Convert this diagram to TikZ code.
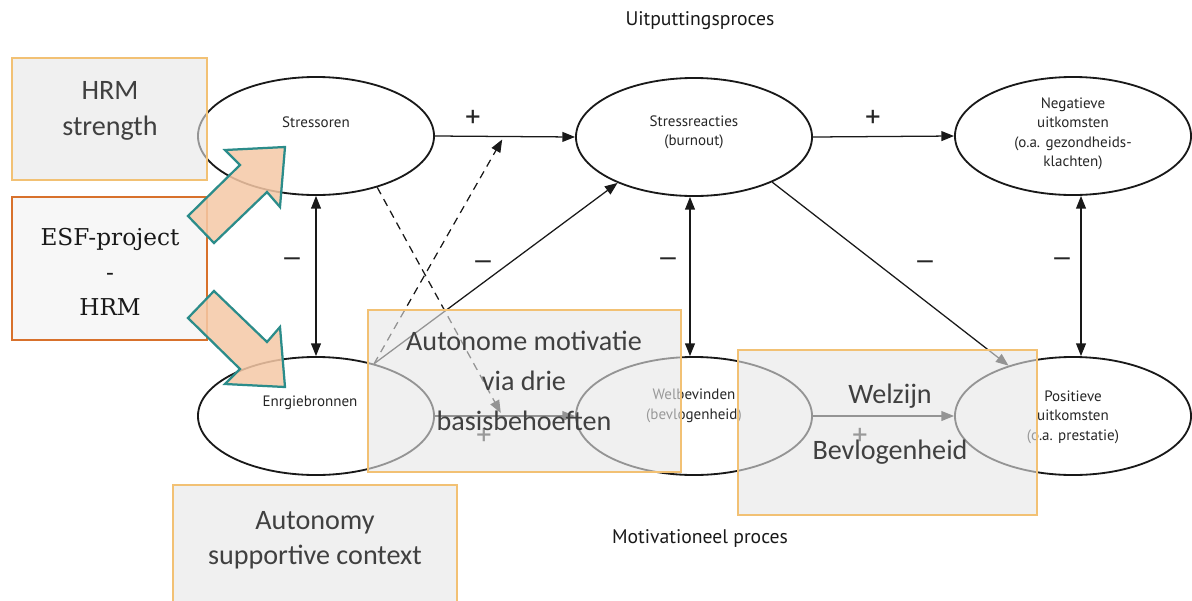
\documentclass[tikz,border=0pt]{standalone}
\usepackage{fontspec}
\setmainfont{Carlito}
\newfontfamily\lblfont{PT Sans}
\newfontfamily\slabfont{DejaVu Serif}
\usetikzlibrary{shapes.geometric,arrows.meta,calc}
\definecolor{boxedge}{HTML}{F2C174}
\definecolor{boxfill}{HTML}{E6E6E6}
\definecolor{esfedge}{HTML}{D8712C}
\definecolor{esffill}{HTML}{F7F7F7}
\definecolor{peach}{HTML}{F5C8A6}
\definecolor{tealedge}{HTML}{2B8C8A}
\definecolor{boxtext}{HTML}{404040}
\begin{document}
\begin{tikzpicture}[x=0.025cm,y=-0.025cm,
  ell/.style={ellipse,draw=black!90,line width=1.3pt,minimum width=5.9cm,minimum height=2.95cm,inner sep=0pt},
  lbl/.style={font=\lblfont\fontsize{10.7}{13.8}\selectfont,align=center,text=black!85},
  tip/.style={-{Triangle[length=9pt,width=7pt]}},
  conn/.style={line width=0.9pt,draw=black!90,tip},
  both/.style={line width=0.9pt,draw=black!90,{Triangle[length=9pt,width=7pt]}-{Triangle[length=9pt,width=7pt]}},
  dashconn/.style={conn,dash pattern=on 5.5pt off 4pt},
  sign/.style={font=\lblfont\fontsize{22}{22}\selectfont,text=black!85},
  minus/.style={font=\lblfont\fontsize{19}{19}\selectfont,text=black!85},
  title/.style={font=\lblfont\fontsize{14}{17}\selectfont,text=black!90},
  softbox/.style={draw=boxedge,line width=1.6pt,fill=boxfill,fill opacity=0.6,inner sep=0pt},
  boxlbl/.style={font=\fontsize{20}{26}\selectfont,text=boxtext,align=center},
  blockarrow/.style={fill=peach,fill opacity=0.85,draw=tealedge,line width=1.6pt,line join=miter}]
\clip (0,0) rectangle (1192,600);

% titles of the two processes
\node[title] (t1) at (700,21) {Uitputtingsproces};
\node[title] (t2) at (700,538) {Motivationeel proces};

% model variables
\node[ell] (str) at (316,136) {};
\node[ell] (sr)  at (694,137) {};
\node[ell] (neg) at (1073,136) {};
\node[ell] (enr) at (316,416) {};
\node[ell] (wel) at (694,416) {};
\node[ell] (pos) at (1073,416) {};

\node[lbl] (strl) at (316,122) {Stressoren};
\node[lbl] (srl)  at (694,132) {Stressreacties\\(burnout)};
\node[lbl] (negl) at (1073,134) {Negatieve\\uitkomsten\\(o.a. gezondheids-\\klachten)};
\node[lbl] (enrl) at (310,403) {Enrgiebronnen};
\node[lbl] (well) at (694,406) {Welbevinden\\(bevlogenheid)};
\node[lbl] (posl) at (1073,417) {Positieve\\uitkomsten\\(o.a. prestatie)};

% paths between the variables
\draw[conn] (str.east) -- (sr.west);
\draw[conn] (sr.east) -- (neg.west);
\draw[both] (str.south) -- (enr.north);
\draw[both] ([xshift=-0.1cm]sr.south) -- ([xshift=-0.1cm]wel.north);
\draw[both] ([xshift=0.2cm]neg.south) -- ([xshift=0.2cm]pos.north);
\draw[conn] (enr.42) -- (sr.211);
\draw[conn] (sr.-30) -- (pos.142);
\draw[conn] (enr.east) -- (wel.west);
\draw[conn] (wel.east) -- (pos.west);

% moderating (dashed) paths
\coordinate (m1) at ($(str.east)!0.48!(sr.west)+(0,3)$);
\coordinate (m2) at ($(enr.east)!0.47!(wel.west)+(0,-3)$);
\draw[dashconn] (enr.42) -- (m1);
\draw[dashconn] (str.-40) -- (m2);

% signs of the paths
\node[sign] (p1) at (473,119) {+};
\node[sign] (p2) at (873,119) {+};
\node[sign] (p3) at (484,437) {+};
\node[sign] (p4) at (860,437) {+};
\node[minus] (n1) at (292,262) {—};
\node[minus] (n2) at (483,265) {—};
\node[minus] (n3) at (668,262) {—};
\node[minus] (n4) at (925,265) {—};
\node[minus] (n5) at (1062,262) {—};

% overlay boxes
\node[softbox,minimum width=4.875cm,minimum height=3.05cm] (hrm) at (109.5,119) {};
\node[boxlbl] (hrml) at (110,111) {HRM\\strength};

\node[softbox,minimum width=7.825cm,minimum height=4.05cm] (aut) at (524.5,391) {};
\node[boxlbl,font=\fontsize{20}{28.5}\selectfont] (autl) at (524,381) {Autonome motivatie\\via drie\\basisbehoeften};

\node[softbox,minimum width=7.475cm,minimum height=4.125cm] (wz) at (887.5,432.5) {};
\node[boxlbl] (wzl1) at (890,396) {Welzijn};
\node[boxlbl] (wzl2) at (890,452) {Bevlogenheid};

\node[softbox,minimum width=7.1cm,minimum height=3.4cm] (asc) at (315,553) {};
\node[boxlbl,font=\fontsize{20}{25}\selectfont] (ascl) at (315,540) {Autonomy\\supportive context};

\node[draw=esfedge,line width=1.8pt,fill=esffill,minimum width=4.875cm,minimum height=3.575cm,inner sep=0pt] (esf) at (109.5,268.5) {};
\node[font=\slabfont\fontsize{16.5}{25}\selectfont,text=black!90,align=center] (esfl) at (110,272) {ESF-project\\-\\HRM};

% block arrows from the project to the two ellipses
\draw[blockarrow] (285,147) -- (225,150) -- (240,165) -- (188,216) -- (214,243) -- (267,192) -- (280,207) -- cycle;
\draw[blockarrow] (285,387) -- (225,384) -- (240,369) -- (188,318) -- (214,291) -- (267,342) -- (280,327) -- cycle;
\end{tikzpicture}
\end{document}
